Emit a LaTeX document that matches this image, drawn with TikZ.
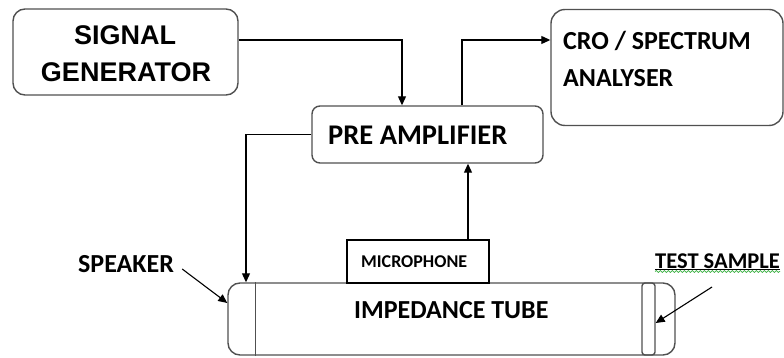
\documentclass[tikz,border=0pt]{standalone}
\usepackage{fontspec}
\setmainfont{Carlito}
\newfontfamily\arialfont{Liberation Sans}
\usetikzlibrary{arrows.meta,decorations.pathmorphing}
\definecolor{boxgray}{HTML}{505050}
\definecolor{spellgreen}{HTML}{3CB043}
\tikzset{
  blockbox/.style={draw=boxgray,line width=1.4pt,rectangle,inner sep=0pt},
  lbl/.style={inner sep=0pt,anchor=base west,font=\bfseries\fontsize{26}{26}\selectfont},
  arr/.style={draw=black,line width=1.1pt,-{Triangle[length=9pt,width=8pt]}},
}
\begin{document}
\begin{tikzpicture}[x=1pt,y=-1pt]
\useasboundingbox (0,0) rectangle (784,358);

% blocks
\node[blockbox,rounded corners=12pt,minimum width=225pt,minimum height=86pt] (sg) at (125.5,52) {};
\node[blockbox,rounded corners=14pt,minimum width=232pt,minimum height=116pt] (cro) at (667,67.5) {};
\node[blockbox,rounded corners=8pt,minimum width=231pt,minimum height=57pt] (pre) at (427.5,134.5) {};
\node[blockbox,rounded corners=12pt,minimum width=447pt,minimum height=72pt] (tube) at (451.5,319) {};
\node[draw=black,line width=1.1pt,rectangle,inner sep=0pt,minimum width=142pt,minimum height=43pt,fill=white] (mic) at (418,261.5) {};
\node[blockbox,rounded corners=3pt,minimum width=13pt,minimum height=72pt] (sample) at (648.5,319) {};
\draw[boxgray,line width=1.4pt] ([xshift=28pt]tube.north west) -- ([xshift=28pt]tube.south west);

% texts
\node[inner sep=0pt,anchor=base,font=\arialfont\bfseries\fontsize{27}{27}\selectfont] (sgA) at (125,45) {SIGNAL};
\node[inner sep=0pt,anchor=base,font=\arialfont\bfseries\fontsize{27}{27}\selectfont] (sgB) at (126,82) {GENERATOR};
\node[lbl] (croA) at (563,50) {CRO / SPECTRUM};
\node[lbl] (croB) at (563,87) {ANALYSER};
\node[lbl,font=\bfseries\fontsize{28.5}{28.5}\selectfont] (preT) at (328,145) {PRE AMPLIFIER};
\node[lbl] (tubeT) at (354,318) {IMPEDANCE TUBE};
\node[lbl,font=\bfseries\fontsize{18}{18}\selectfont] (micT) at (361,267) {MICROPHONE};
\node[lbl] (spk) at (78,272) {SPEAKER};
\node[lbl,font=\bfseries\fontsize{22.5}{22.5}\selectfont] (tst) at (655,268) {TEST SAMPLE};
\draw[black,line width=0.8pt] ([yshift=-1.5pt]tst.base west) -- ([yshift=-1.5pt]tst.base east);
\draw[spellgreen,line width=0.7pt,decorate,decoration={snake,amplitude=1pt,segment length=4pt}]
  ([yshift=-3.5pt]tst.base west) -- ([yshift=-3.5pt]tst.base east);

% connectors
\draw[arr] ([yshift=12pt]sg.east) -| ([xshift=-25.5pt]pre.north);
\draw[arr] ([xshift=34.5pt]pre.north) |- ([yshift=27.5pt]cro.west);
\draw[arr] (pre.west) -| ([xshift=-205.5pt]tube.north);
\draw[arr] ([xshift=50pt]mic.north) -- ([xshift=50pt]mic.north |- pre.south);
\draw[arr] ([xshift=8pt,yshift=3pt]spk.base east) -- ([yshift=16pt]tube.west);
\draw[arr] ([xshift=57pt,yshift=-19pt]tst.base west) -- ([yshift=-4pt]sample.east);
\end{tikzpicture}
\end{document}
